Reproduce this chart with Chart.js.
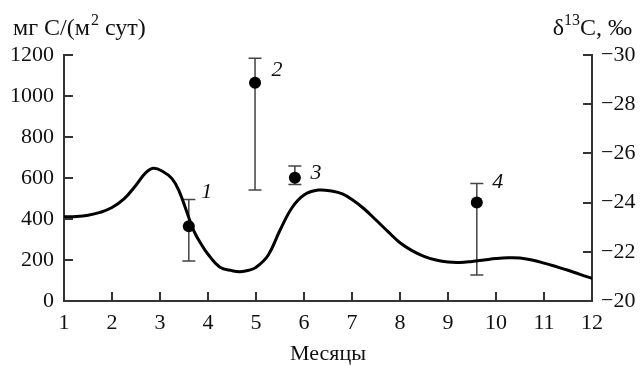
<!DOCTYPE html>
<html><head><meta charset="utf-8">
<script src="https://cdn.jsdelivr.net/npm/chart.js@4/dist/chart.umd.min.js"></script>
<style>html,body{margin:0;padding:0;background:#fff}#wrap{width:641px;height:366px;position:relative}</style>
</head><body><div id="wrap"><canvas id="c" width="641" height="366"></canvas></div>
<script>
// ---- data ----
const curveMonths = [1, 1.25, 1.5, 1.75, 2, 2.25, 2.5, 2.7, 2.86, 3.05, 3.25, 3.4, 3.55, 3.7, 3.85, 4, 4.25, 4.5, 4.67, 4.85, 5, 5.25, 5.5, 5.75, 6, 6.3, 6.6, 6.8, 7, 7.25, 7.5, 7.75, 8, 8.25, 8.5, 8.75, 9, 9.25, 9.5, 9.75, 10, 10.25, 10.5, 10.75, 11, 11.25, 11.5, 11.75, 12];
const curveProduction = [411, 412, 418, 432, 456, 498, 565, 625, 647, 633, 597, 535, 440, 345, 280, 228, 165, 148, 143, 150, 164, 222, 345, 455, 517, 541, 535, 522, 495, 450, 395, 338, 284, 246, 218, 200, 190, 188, 193, 200, 207, 211, 210, 200, 185, 168, 150, 130, 111];
const sampleMonths = [3.6, 4.98, 5.81, 9.6];
const sampleD13C = [-23.04, -28.87, -25.01, -24.0];
const sampleD13CLow = [-21.63, -24.51, -24.74, -21.06];
const sampleD13CHigh = [-24.13, -29.87, -25.49, -24.78];
const sampleLabels = ['1', '2', '3', '4'];
const monthTicks = [1, 2, 3, 4, 5, 6, 7, 8, 9, 10, 11, 12];
const productionTicks = [0, 200, 400, 600, 800, 1000, 1200];
const d13CTicks = [-30, -28, -26, -24, -22, -20];
const xTitle = 'Месяцы';
const leftTitle = ['мг C/(м', '2', ' сут)'];
const rightTitle = ['δ', '13', 'C, ‰'];

// label offsets from the point (px)
const labelOffsets = [[18, -34], [22, -13], [21, -5], [21, -20]];

const FONT = '"Liberation Serif", "Times New Roman", serif';
const TXT = '#111';
const AX = '#333';

const customDraw = {
  id: 'customDraw',
  beforeDatasetsDraw(chart) {
    const ctx = chart.ctx, x = chart.scales.x, y2 = chart.scales.y2;
    ctx.save();
    ctx.strokeStyle = '#444';
    ctx.lineWidth = 1.5;
    sampleMonths.forEach((m, i) => {
      const px = x.getPixelForValue(m);
      const yl = y2.getPixelForValue(sampleD13CLow[i]);
      const yh = y2.getPixelForValue(sampleD13CHigh[i]);
      ctx.beginPath();
      ctx.moveTo(px, yl); ctx.lineTo(px, yh);
      ctx.moveTo(px - 6.5, yl); ctx.lineTo(px + 6.5, yl);
      ctx.moveTo(px - 6.5, yh); ctx.lineTo(px + 6.5, yh);
      ctx.stroke();
    });
    ctx.restore();
  },
  afterDraw(chart) {
    const ctx = chart.ctx, x = chart.scales.x, y = chart.scales.y, y2 = chart.scales.y2;
    const a = chart.chartArea;
    ctx.save();
    ctx.strokeStyle = AX;
    ctx.lineWidth = 2;
    ctx.beginPath();
    productionTicks.forEach(v => { const p = Math.round(y.getPixelForValue(v)); ctx.moveTo(a.left, p); ctx.lineTo(a.left + 9, p); });
    d13CTicks.forEach(v => { const p = Math.round(y2.getPixelForValue(v)); ctx.moveTo(a.right, p); ctx.lineTo(a.right - 9, p); });
    monthTicks.forEach(v => { const p = Math.round(x.getPixelForValue(v)); ctx.moveTo(p, a.bottom); ctx.lineTo(p, a.bottom - 9); });
    ctx.stroke();

    // axis titles
    ctx.fillStyle = TXT;
    ctx.textBaseline = 'alphabetic';
    const big = '24px ' + FONT, small = '16px ' + FONT;
    let cx = 13;
    ctx.font = big; ctx.fillText(leftTitle[0], cx, 35); cx += ctx.measureText(leftTitle[0]).width + 1;
    ctx.font = small; ctx.fillText(leftTitle[1], cx, 25); cx += ctx.measureText(leftTitle[1]).width;
    ctx.font = big; ctx.fillText(leftTitle[2], cx, 35);

    ctx.font = big; const w0 = ctx.measureText(rightTitle[0]).width, w2 = ctx.measureText(rightTitle[2]).width;
    ctx.font = small; const w1 = ctx.measureText(rightTitle[1]).width;
    cx = 632 - (w0 + w1 + w2);
    ctx.font = big; ctx.fillText(rightTitle[0], cx, 35); cx += w0;
    ctx.font = small; ctx.fillText(rightTitle[1], cx, 25); cx += w1;
    ctx.font = big; ctx.fillText(rightTitle[2], cx, 35);

    // point labels
    ctx.font = 'italic 22px ' + FONT;
    ctx.textAlign = 'center';
    ctx.textBaseline = 'middle';
    sampleMonths.forEach((m, i) => {
      const px = x.getPixelForValue(m) + labelOffsets[i][0];
      const py = y2.getPixelForValue(sampleD13C[i]) + labelOffsets[i][1];
      ctx.fillText(sampleLabels[i], px, py);
    });
    ctx.restore();
  }
};

const tickFont = { family: FONT, size: 22, lineHeight: 1.2 };

new Chart(document.getElementById('c'), {
  type: 'scatter',
  data: {
    datasets: [
      {
        type: 'line',
        data: curveMonths.map((m, i) => ({ x: m, y: curveProduction[i] })),
        borderColor: '#000',
        borderWidth: 3,
        pointRadius: 0,
        tension: 0.4,
        borderJoinStyle: 'round',
        borderCapStyle: 'round',
        fill: false,
        yAxisID: 'y'
      },
      {
        type: 'scatter',
        data: sampleMonths.map((m, i) => ({ x: m, y: sampleD13C[i] })),
        backgroundColor: '#000',
        borderColor: '#000',
        borderWidth: 0,
        pointRadius: 6,
        yAxisID: 'y2'
      }
    ]
  },
  options: {
    responsive: false,
    animation: false,
    devicePixelRatio: 1,
    layout: { padding: { top: 55, left: 0, right: 0, bottom: 0 } },
    plugins: { legend: { display: false }, tooltip: { enabled: false }, title: { display: false } },
    scales: {
      x: {
        type: 'linear', position: 'bottom', min: 1, max: 12,
        afterBuildTicks: s => { s.ticks = monthTicks.map(v => ({ value: v })); },
        afterFit: s => { s.height = 65; },
        grid: { display: false, drawTicks: false },
        border: { display: true, color: AX, width: 2 },
        ticks: { font: tickFont, color: TXT, padding: 9, maxRotation: 0, autoSkip: false, callback: v => String(v) },
        title: { display: true, text: xTitle, font: { family: FONT, size: 22, lineHeight: 1.1 }, color: TXT, padding: 0 }
      },
      y: {
        type: 'linear', position: 'left', min: 0, max: 1200,
        afterBuildTicks: s => { s.ticks = productionTicks.map(v => ({ value: v })); },
        afterFit: s => { s.width = 64; },
        grid: { display: false, drawTicks: false },
        border: { display: true, color: AX, width: 2 },
        ticks: { font: tickFont, color: TXT, padding: 10, callback: v => String(v) }
      },
      y2: {
        type: 'linear', position: 'right', min: -30, max: -20, reverse: true,
        afterBuildTicks: s => { s.ticks = d13CTicks.map(v => ({ value: v })); },
        afterFit: s => { s.width = 49; },
        grid: { display: false, drawTicks: false },
        border: { display: true, color: AX, width: 2 },
        ticks: { font: tickFont, color: TXT, padding: 9, callback: v => String(v).replace('-', '\u2212') }
      }
    }
  },
  plugins: [customDraw]
});
</script>
</body></html>
